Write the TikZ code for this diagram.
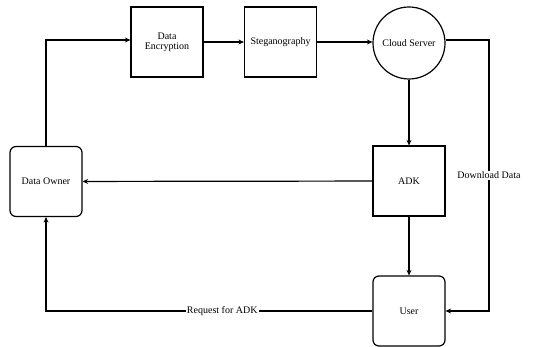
\documentclass[tikz,border=0pt]{standalone}
\usepackage{fontspec}
\setmainfont{Liberation Serif}
\usetikzlibrary{arrows.meta}
\begin{document}
\begin{tikzpicture}[x=1pt,y=-1pt,
  line width=1.2pt,
  font=\fontsize{10}{10}\selectfont,
  sqbox/.style={draw, minimum width=72pt, minimum height=70pt, inner sep=1pt, align=center},
  rbox/.style={sqbox, rounded corners=6pt},
  cbox/.style={draw, circle, minimum size=72pt, inner sep=0pt},
  arr/.style={-{Stealth[length=5.5pt,width=5pt]}},
  lbl/.style={fill=white, inner sep=1pt}]
\useasboundingbox (0,0) rectangle (546,347);
\node[sqbox] (enc) at (167,42) {Data\\Encryption};
\node[sqbox] (steg) at (280.5,42) {Steganography};
\node[cbox] (cloud) at (409,43) {Cloud Server};
\node[rbox] (owner) at (46,181.5) {Data Owner};
\node[sqbox] (adk) at (409,181) {ADK};
\node[rbox] (user) at (409,311) {User};
\coordinate (tl) at (46,40);
\coordinate (tr) at (489,40);
\coordinate (br) at (489,311);
\coordinate (bl) at (46,311);
\draw[arr] (owner.north) -- (tl) -- (enc.west |- tl);
\draw[arr] (enc) -- (steg);
\draw[arr] (steg.east) -- (cloud.west |- steg.east);
\draw[arr] (cloud.east |- tr) -- (tr) -- node[lbl, pos=0.5]{Download Data} (br) -- (user.east |- br);
\draw[arr] (cloud) -- (adk);
\draw[arr] (adk) -- (owner);
\draw[arr] (adk) -- (user);
\draw[arr] (user.west |- bl) -- node[lbl, pos=0.46]{Request for ADK} (bl) -- (owner.south);
\end{tikzpicture}
\end{document}
